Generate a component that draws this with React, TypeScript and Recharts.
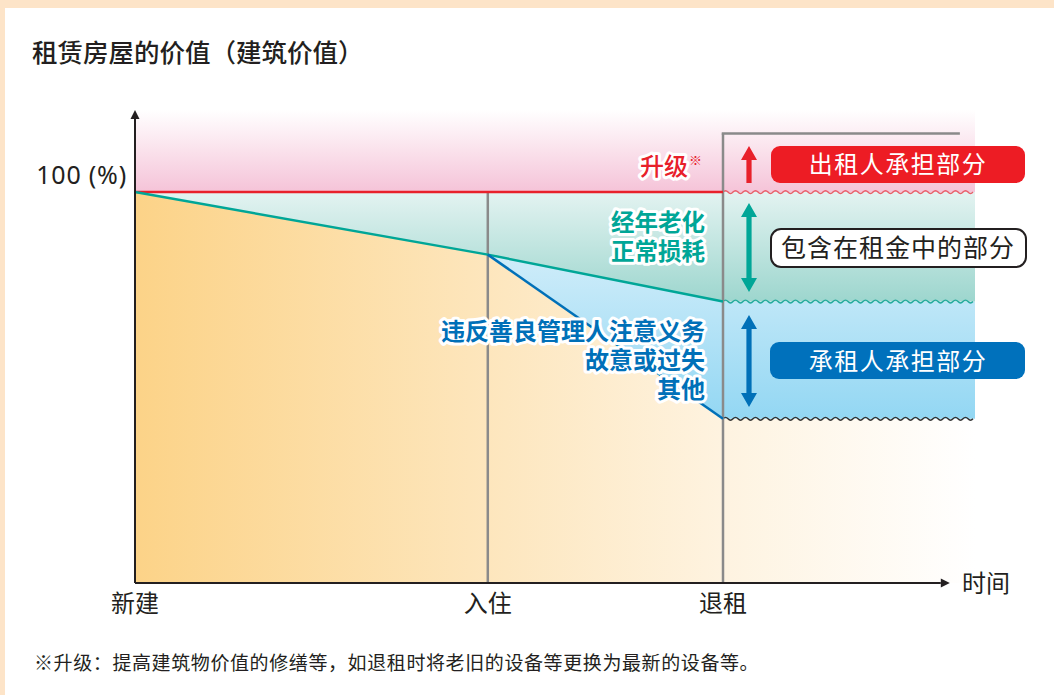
import React from 'react';
import { ComposedChart, Area, Line, XAxis, YAxis, ReferenceLine } from 'recharts';

// time axis: 新建 -> 入住 -> 退租, band end at 100
const timePoints = [0, 42, 70, 100];
// stacked bands (building value, %)
const remainingValue = [100, 84, 42, 42];
const tenantShare = [0, 0, 30, 30];
const agingShare = [0, 16, 28, 28];
const upgradeShare = [21, 21, 21, 21];
// boundary lines
const upgradeLine = [100, 100, 100, null];
const agingLine = [100, 84, 72, null];
const damageLine = [null, 84, 42, null];

const xTicks = [0, 42, 70];
const xTickLabels = ['新建', '入住', '退租'];
const yTicks = [100];
const yTickLabels = ['100 (%)'];

const data = timePoints.map((t, i) => ({
  t,
  remaining: remainingValue[i],
  tenant: tenantShare[i],
  aging: agingShare[i],
  upgrade: upgradeShare[i],
  upLine: upgradeLine[i],
  ageLine: agingLine[i],
  dmgLine: damageLine[i],
}));

const CJK = '"Noto Sans CJK SC", "Noto Sans", sans-serif';
const DARK = '#231f20';
const RED = '#e8202a';
const TEAL = '#00a697';
const BLUE = '#0070b8';
const GRAY = '#8a8a8a';

const XTick = (props: any) => {
  const { x, y, payload } = props;
  const idx = xTicks.indexOf(payload.value);
  return (
    <text x={x} y={y + 21} textAnchor="middle" fontFamily={CJK} fontSize={24} fill={DARK}>
      {xTickLabels[idx]}
    </text>
  );
};

const YTick = (props: any) => {
  const { x, y, payload } = props;
  const idx = yTicks.indexOf(payload.value);
  return (
    <text x={x} y={y - 8} textAnchor="end" fontFamily='"Noto Sans", sans-serif' fontSize={25} letterSpacing={0.8} fill={DARK}>
      {yTickLabels[idx]}
    </text>
  );
};

// axis line with an arrow head at its end
const AxisArrow = (props: any) => {
  const { x1, y1, x2, y2 } = props;
  const dx = x2 - x1;
  const dy = y2 - y1;
  const len = Math.sqrt(dx * dx + dy * dy) || 1;
  const ux = dx / len;
  const uy = dy / len;
  const h = 9;
  const w = 4.5;
  const bx = x2 - ux * h;
  const by = y2 - uy * h;
  return (
    <g>
      <line x1={x1} y1={y1} x2={bx} y2={by} stroke={DARK} strokeWidth={2} />
      <path
        d={`M${x2},${y2} L${bx - uy * w},${by + ux * w} L${bx + uy * w},${by - ux * w} Z`}
        fill={DARK}
      />
    </g>
  );
};

const makeWave = (color: string) => (props: any) => {
  const { x1, x2, y1 } = props;
  const step = 5;
  let d = `M${x1},${y1}`;
  let up = true;
  for (let x = x1; x + step <= x2 + 0.1; x += step) {
    d += ` Q${x + step / 2},${y1 + (up ? -2.8 : 2.8)} ${x + step},${y1}`;
    up = !up;
  }
  return <path d={d} fill="none" stroke={color} strokeWidth={1.4} />;
};

const haloText = {
  stroke: '#ffffff',
  strokeWidth: 6,
  paintOrder: 'stroke' as const,
  strokeLinejoin: 'round' as const,
};

const doubleArrow = (x: number, top: number, bottom: number, color: string) => {
  const hw = 8;
  const hh = 14;
  const sw = 2.6;
  return (
    <path
      d={`M${x},${top} L${x + hw},${top + hh} L${x + sw},${top + hh} L${x + sw},${bottom - hh} L${x + hw},${bottom - hh} L${x},${bottom} L${x - hw},${bottom - hh} L${x - sw},${bottom - hh} L${x - sw},${top + hh} L${x - hw},${top + hh} Z`}
      fill={color}
    />
  );
};

const App: React.FC = () => {
  return (
    <div style={{ position: 'absolute', left: 0, top: 0, width: 1054, height: 695, background: '#fde4c8', overflow: 'hidden' }}>
      <div style={{ position: 'absolute', left: 5, top: 8, width: 1049, height: 687, background: '#ffffff' }} />
      <div style={{ position: 'absolute', left: 0, top: 0 }}>
        <ComposedChart
          width={1054}
          height={695}
          data={data}
          margin={{ top: 110, right: 79, bottom: 72, left: 0 }}
        >
          <defs>
            <linearGradient id="gOrange" x1="0" y1="0" x2="1" y2="0">
              <stop offset="0%" stopColor="#fcd388" />
              <stop offset="42%" stopColor="#fde6bd" />
              <stop offset="70%" stopColor="#fef3e0" />
              <stop offset="100%" stopColor="#ffffff" />
            </linearGradient>
            <linearGradient id="gBlue" x1="0" y1="0" x2="0" y2="1">
              <stop offset="0%" stopColor="#e6f5fc" />
              <stop offset="100%" stopColor="#93d7f3" />
            </linearGradient>
            <linearGradient id="gTeal" x1="0" y1="0" x2="0" y2="1">
              <stop offset="0%" stopColor="#e3f3f1" />
              <stop offset="100%" stopColor="#9dd6ce" />
            </linearGradient>
            <linearGradient id="gPink" x1="0" y1="0" x2="0" y2="1">
              <stop offset="0%" stopColor="#ffffff" />
              <stop offset="100%" stopColor="#f5c3d8" />
            </linearGradient>
          </defs>
          <XAxis
            type="number"
            dataKey="t"
            domain={[0, 100]}
            ticks={xTicks}
            tick={<XTick />}
            axisLine={false}
            tickLine={false}
            height={40}
            interval={0}
          />
          <YAxis
            type="number"
            domain={[0, 121]}
            ticks={yTicks}
            tick={<YTick />}
            axisLine={false}
            tickLine={false}
            width={135}
            interval={0}
          />
          <Area type="linear" dataKey="remaining" stackId="v" stroke="none" fill="url(#gOrange)" fillOpacity={1} isAnimationActive={false} />
          <Area type="linear" dataKey="tenant" stackId="v" stroke="none" fill="url(#gBlue)" fillOpacity={1} isAnimationActive={false} />
          <Area type="linear" dataKey="aging" stackId="v" stroke="none" fill="url(#gTeal)" fillOpacity={1} isAnimationActive={false} />
          <Area type="linear" dataKey="upgrade" stackId="v" stroke="none" fill="url(#gPink)" fillOpacity={1} isAnimationActive={false} />

          <ReferenceLine segment={[{ x: 70, y: 100 }, { x: 100, y: 100 }]} shape={makeWave('#e8606a')} ifOverflow="visible" />
          <ReferenceLine segment={[{ x: 70, y: 72 }, { x: 100, y: 72 }]} shape={makeWave('#22aa9c')} ifOverflow="visible" />
          <ReferenceLine segment={[{ x: 70, y: 42 }, { x: 100, y: 42 }]} shape={makeWave('#333333')} ifOverflow="visible" />

          <ReferenceLine segment={[{ x: 42, y: 0 }, { x: 42, y: 100 }]} stroke={GRAY} strokeWidth={2.5} ifOverflow="visible" />
          <ReferenceLine segment={[{ x: 70, y: 0 }, { x: 70, y: 115 }]} stroke={GRAY} strokeWidth={2.5} ifOverflow="visible" />
          <ReferenceLine segment={[{ x: 69.85, y: 115 }, { x: 98.2, y: 115 }]} stroke={GRAY} strokeWidth={2.5} ifOverflow="visible" />

          <Line type="linear" dataKey="upLine" stroke={RED} strokeWidth={2.5} dot={false} activeDot={false} isAnimationActive={false} />
          <Line type="linear" dataKey="ageLine" stroke={TEAL} strokeWidth={2.5} dot={false} activeDot={false} isAnimationActive={false} />
          <Line type="linear" dataKey="dmgLine" stroke={BLUE} strokeWidth={2.5} dot={false} activeDot={false} isAnimationActive={false} />

          <ReferenceLine segment={[{ x: 0, y: 0 }, { x: 0, y: 121 }]} shape={<AxisArrow />} ifOverflow="visible" />
          <ReferenceLine segment={[{ x: 0, y: 0 }, { x: 97, y: 0 }]} shape={<AxisArrow />} ifOverflow="visible" />
        </ComposedChart>
      </div>

      <svg width={1054} height={695} style={{ position: 'absolute', left: 0, top: 0, pointerEvents: 'none' }}>
        <text x={32} y={62} fontFamily={CJK} fontSize={25.5} fontWeight={500} fill={DARK}>
          租赁房屋的价值（建筑价值）
        </text>

        <text x={688} y={175} textAnchor="end" fontFamily={CJK} fontSize={24} fontWeight={500} fill={RED} style={haloText}>
          升级
        </text>
        <text x={689} y={165} fontFamily={CJK} fontSize={13} fill={RED}>※</text>

        <g fontFamily={CJK} fontSize={23.5} fontWeight={700} fill={TEAL} textAnchor="end" style={haloText}>
          <text x={705} y={231}>经年老化</text>
          <text x={705} y={260}>正常损耗</text>
        </g>

        <g fontFamily={CJK} fontSize={24} fontWeight={700} fill={BLUE} textAnchor="end" style={haloText}>
          <text x={705} y={340}>违反善良管理人注意义务</text>
          <text x={705} y={369}>故意或过失</text>
          <text x={705} y={398}>其他</text>
        </g>

        <path d="M749,146 L757,160 L751.6,160 L751.6,183 L746.4,183 L746.4,160 L741,160 Z" fill={RED} />
        {doubleArrow(749, 203, 292, TEAL)}
        {doubleArrow(749, 315, 407, BLUE)}

        <rect x={771} y={146} width={254} height={37} rx={9} fill="#ed1c24" />
        <text x={898} y={173} textAnchor="middle" fontFamily={CJK} fontSize={24} letterSpacing={1.5} fill="#ffffff">
          出租人承担部分
        </text>

        <rect x={771} y={229} width={255} height={38} rx={10} fill="#ffffff" stroke={DARK} strokeWidth={2} />
        <text x={898} y={257} textAnchor="middle" fontFamily={CJK} fontSize={25} letterSpacing={1} fill={DARK}>
          包含在租金中的部分
        </text>

        <rect x={770} y={342} width={255} height={37} rx={9} fill="#0071bc" />
        <text x={898} y={370} textAnchor="middle" fontFamily={CJK} fontSize={24} letterSpacing={1.5} fill="#ffffff">
          承租人承担部分
        </text>

        <text x={962} y={592} fontFamily={CJK} fontSize={24} fill={DARK}>时间</text>

        <text x={34} y={670} fontFamily={CJK} fontSize={19} letterSpacing={0.6} fill={DARK}>
          ※升级：提高建筑物价值的修缮等，如退租时将老旧的设备等更换为最新的设备等。
        </text>
      </svg>
    </div>
  );
};

export default App;
